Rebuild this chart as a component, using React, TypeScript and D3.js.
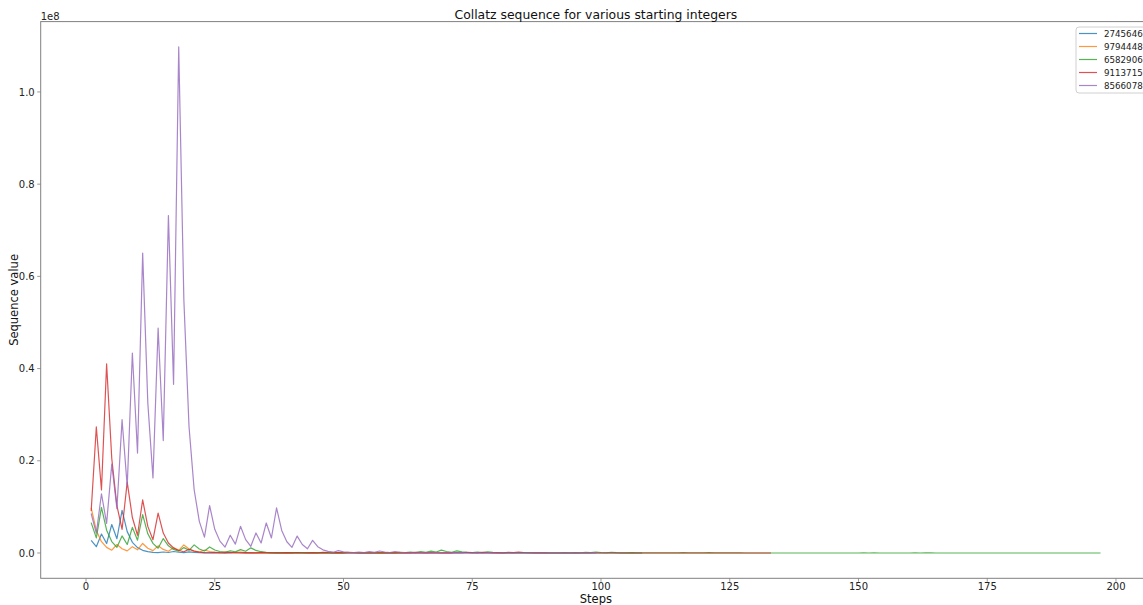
import React from "react";
import * as d3 from "d3";

const seriesLabels = ["2745646", "9794448", "6582906", "9113715", "8566078"];
const seriesColors = ["#1f77b4", "#ff7f0e", "#2ca02c", "#d62728", "#9467bd"];

const seq2745646 = [2745646,1372823,4118470,2059235,6177706,3088853,9266560,4633280,2316640,1158320,579160,289580,144790,72395,217186,108593,325780,162890,81445,244336,122168,61084,30542,15271,45814,22907,68722,34361,103084,51542,25771,77314,38657,115972,57986,28993,86980,43490,21745,65236,32618,16309,48928,24464,12232,6116,3058,1529,4588,2294,1147,3442,1721,5164,2582,1291,3874,1937,5812,2906,1453,4360,2180,1090,545,1636,818,409,1228,614,307,922,461,1384,692,346,173,520,260,130,65,196,98,49,148,74,37,112,56,28,14,7,22,11,34,17,52,26,13,40,20,10,5,16,8,4,2,1];
const seq9794448 = [9794448,4897224,2448612,1224306,612153,1836460,918230,459115,1377346,688673,2066020,1033010,516505,1549516,774758,387379,1162138,581069,1743208,871604,435802,217901,653704,326852,163426,81713,245140,122570,61285,183856,91928,45964,22982,11491,34474,17237,51712,25856,12928,6464,3232,1616,808,404,202,101,304,152,76,38,19,58,29,88,44,22,11,34,17,52,26,13,40,20,10,5,16,8,4,2,1];
const seq6582906 = [6582906,3291453,9874360,4937180,2468590,1234295,3702886,1851443,5554330,2777165,8331496,4165748,2082874,1041437,3124312,1562156,781078,390539,1171618,585809,1757428,878714,439357,1318072,659036,329518,164759,494278,247139,741418,370709,1112128,556064,278032,139016,69508,34754,17377,52132,26066,13033,39100,19550,9775,29326,14663,43990,21995,65986,32993,98980,49490,24745,74236,37118,18559,55678,27839,83518,41759,125278,62639,187918,93959,281878,140939,422818,211409,634228,317114,158557,475672,237836,118918,59459,178378,89189,267568,133784,66892,33446,16723,50170,25085,75256,37628,18814,9407,28222,14111,42334,21167,63502,31751,95254,47627,142882,71441,214324,107162,53581,160744,80372,40186,20093,60280,30140,15070,7535,22606,11303,33910,16955,50866,25433,76300,38150,19075,57226,28613,85840,42920,21460,10730,5365,16096,8048,4024,2012,1006,503,1510,755,2266,1133,3400,1700,850,425,1276,638,319,958,479,1438,719,2158,1079,3238,1619,4858,2429,7288,3644,1822,911,2734,1367,4102,2051,6154,3077,9232,4616,2308,1154,577,1732,866,433,1300,650,325,976,488,244,122,61,184,92,46,23,70,35,106,53,160,80,40,20,10,5,16,8,4,2,1];
const seq9113715 = [9113715,27341146,13670573,41011720,20505860,10252930,5126465,15379396,7689698,3844849,11534548,5767274,2883637,8650912,4325456,2162728,1081364,540682,270341,811024,405512,202756,101378,50689,152068,76034,38017,114052,57026,28513,85540,42770,21385,64156,32078,16039,48118,24059,72178,36089,108268,54134,27067,81202,40601,121804,60902,30451,91354,45677,137032,68516,34258,17129,51388,25694,12847,38542,19271,57814,28907,86722,43361,130084,65042,32521,97564,48782,24391,73174,36587,109762,54881,164644,82322,41161,123484,61742,30871,92614,46307,138922,69461,208384,104192,52096,26048,13024,6512,3256,1628,814,407,1222,611,1834,917,2752,1376,688,344,172,86,43,130,65,196,98,49,148,74,37,112,56,28,14,7,22,11,34,17,52,26,13,40,20,10,5,16,8,4,2,1];
const seq8566078 = [8566078,4283039,12849118,6424559,19273678,9636839,28910518,14455259,43365778,21682889,65048668,32524334,16262167,48786502,24393251,73179754,36589877,109769632,54884816,27442408,13721204,6860602,3430301,10290904,5145452,2572726,1286363,3859090,1929545,5788636,2894318,1447159,4341478,2170739,6512218,3256109,9768328,4884164,2442082,1221041,3663124,1831562,915781,2747344,1373672,686836,343418,171709,515128,257564,128782,64391,193174,96587,289762,144881,434644,217322,108661,325984,162992,81496,40748,20374,10187,30562,15281,45844,22922,11461,34384,17192,8596,4298,2149,6448,3224,1612,806,403,1210,605,1816,908,454,227,682,341,1024,512,256,128,64,32,16,8,4,2,1];

const allSeries = [seq2745646, seq9794448, seq6582906, seq9113715, seq8566078];

const xTicks = [0, 25, 50, 75, 100, 125, 150, 175, 200];
const yTicks = [0, 0.2e8, 0.4e8, 0.6e8, 0.8e8, 1.0e8];
const yTickLabels = ["0.0", "0.2", "0.4", "0.6", "0.8", "1.0"];

const titleText = "Collatz sequence for various starting integers";
const xLabelText = "Steps";
const yLabelText = "Sequence value";
const offsetText = "1e8";

export default function App() {
  const W = 1143;
  const H = 605;
  const left = 40.7, right = 1151, top = 21.6, bottom = 578.3;
  const font = "'DejaVu Sans', sans-serif";

  const maxLen = d3.max(allSeries, (s) => s.length) as number;
  const xMinD = 1, xMaxD = maxLen;
  const xPad = (xMaxD - xMinD) * 0.05;
  const x = d3.scaleLinear().domain([xMinD - xPad, xMaxD + xPad]).range([left, right]);

  const yMaxD = d3.max(allSeries, (s) => d3.max(s)) as number;
  const yMinD = d3.min(allSeries, (s) => d3.min(s)) as number;
  const yPad = (yMaxD - yMinD) * 0.05;
  const y = d3.scaleLinear().domain([yMinD - yPad, yMaxD + yPad]).range([bottom, top]);

  const line = d3
    .line<number>()
    .x((_, i) => x(i + 1))
    .y((d) => y(d));

  const spine = "#808080";
  const legendRowY = [33.5, 46.5, 59.5, 72.5, 85.5];
  const tickFs = 10;

  return (
    <svg
      width={W}
      height={H}
      style={{ position: "absolute", left: 0, top: 0, background: "#fff" }}
      fontFamily={font}
    >
      <rect x={0} y={0} width={W} height={H} fill="#fff" />
      <defs>
        <clipPath id="plotclip">
          <rect x={left} y={top} width={right - left} height={bottom - top} />
        </clipPath>
      </defs>
      <g clipPath="url(#plotclip)">
        {allSeries.map((s, i) => (
          <path
            key={seriesLabels[i]}
            d={line(s) || ""}
            fill="none"
            stroke={seriesColors[i]}
            strokeWidth={1.2}
            strokeOpacity={0.8}
            strokeLinejoin="round"
          />
        ))}
      </g>
      <rect x={left} y={top} width={right - left} height={bottom - top} fill="none" stroke={spine} strokeWidth={1} />
      {xTicks.map((t) => (
        <g key={"xt" + t}>
          <line x1={x(t)} x2={x(t)} y1={bottom} y2={bottom + 3.5} stroke={spine} strokeWidth={0.8} />
          <text x={x(t)} y={bottom + 12} textAnchor="middle" fontSize={tickFs} fill="#222">
            {t}
          </text>
        </g>
      ))}
      {yTicks.map((t, i) => (
        <g key={"yt" + t}>
          <line x1={left - 3.5} x2={left} y1={y(t)} y2={y(t)} stroke={spine} strokeWidth={0.8} />
          <text x={left - 6} y={y(t) + 3.6} textAnchor="end" fontSize={tickFs} fill="#222">
            {yTickLabels[i]}
          </text>
        </g>
      ))}
      <text x={left} y={top - 2} fontSize={tickFs} fill="#222">
        {offsetText}
      </text>
      <text x={(left + right) / 2} y={top - 2.5} textAnchor="middle" fontSize={12.4} fill="#111">
        {titleText}
      </text>
      <text x={(left + right) / 2} y={602.5} textAnchor="middle" fontSize={11.5} fill="#111">
        {xLabelText}
      </text>
      <text
        transform={`translate(18, ${(top + bottom) / 2}) rotate(-90)`}
        textAnchor="middle"
        fontSize={11.5}
        fill="#111"
      >
        {yLabelText}
      </text>
      <rect x={1076} y={27} width={90} height={66} rx={3} fill="#fff" fillOpacity={0.8} stroke="#d0d0d0" strokeWidth={1} />
      {seriesLabels.map((lab, i) => (
        <g key={"lg" + lab}>
          <line x1={1079} x2={1097} y1={legendRowY[i]} y2={legendRowY[i]} stroke={seriesColors[i]} strokeWidth={1.2} strokeOpacity={0.8} />
          <text x={1104} y={legendRowY[i] + 3.2} fontSize={8.7} fill="#222">
            {lab}
          </text>
        </g>
      ))}
    </svg>
  );
}
